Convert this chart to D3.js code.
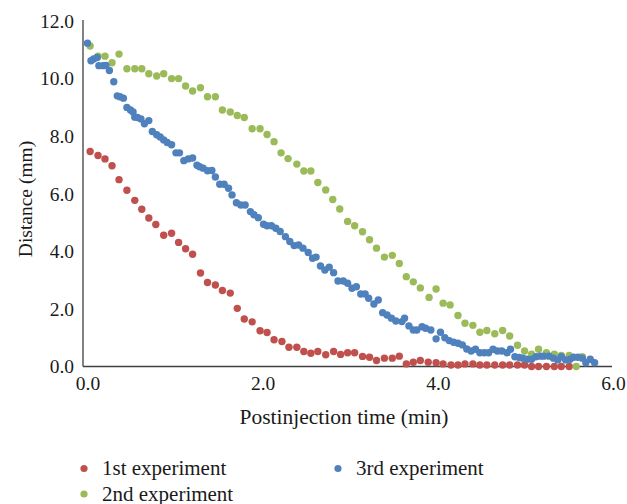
<!DOCTYPE html>
<html>
<head>
<meta charset="UTF-8">
<script src="https://d3js.org/d3.v7.min.js"></script>
<style>
  body { margin: 0; background: #fff; }
</style>
</head>
<body>
<div id="chart"></div>
<script>

// series: [time (min), distance (mm)]
var exp1 = [
  [0.03,7.47],[0.12,7.33],[0.20,7.21],[0.28,6.97],[0.36,6.49],[0.45,6.12],[0.54,5.77],[0.62,5.46],
  [0.70,5.16],[0.78,4.93],[0.87,4.56],[0.96,4.63],[1.04,4.31],[1.12,4.09],[1.20,3.90],[1.29,3.25],
  [1.37,2.92],[1.46,2.83],[1.54,2.64],[1.63,2.55],[1.71,2.02],[1.79,1.65],[1.88,1.55],[1.97,1.24],
  [2.05,1.18],[2.13,0.93],[2.22,0.87],[2.30,0.67],[2.39,0.67],[2.47,0.52],[2.55,0.46],[2.63,0.52],
  [2.72,0.41],[2.81,0.52],[2.89,0.42],[2.97,0.48],[3.05,0.48],[3.14,0.35],[3.22,0.32],[3.30,0.21],
  [3.39,0.29],[3.48,0.29],[3.56,0.36],[3.64,0.09],[3.72,0.15],[3.80,0.21],[3.89,0.15],[3.98,0.13],
  [4.06,0.09],[4.15,0.05],[4.23,0.05],[4.31,0.09],[4.40,0.09],[4.48,0.05],[4.56,0.05],[4.65,0.05],
  [4.74,0.05],[4.82,0.05],[4.91,0.05],[4.99,0.05],[5.07,0.0],[5.15,0.0],[5.24,0.0],[5.33,0.0],
  [5.41,0.0],[5.50,0.0]
];

var exp2 = [
  [0.03,11.13],[0.12,10.78],[0.20,10.78],[0.28,10.55],[0.36,10.85],[0.45,10.34],[0.54,10.34],[0.62,10.34],
  [0.70,10.17],[0.79,10.09],[0.87,10.17],[0.96,10.00],[1.04,10.00],[1.12,9.74],[1.20,9.57],[1.29,9.68],
  [1.37,9.37],[1.46,9.37],[1.54,8.91],[1.63,8.84],[1.71,8.72],[1.79,8.65],[1.88,8.26],[1.97,8.26],
  [2.05,8.06],[2.13,7.81],[2.21,7.42],[2.29,7.22],[2.39,7.03],[2.47,6.79],[2.55,6.79],[2.63,6.39],
  [2.72,6.13],[2.80,5.80],[2.88,5.47],[2.97,5.04],[3.05,4.89],[3.14,4.68],[3.22,4.40],[3.30,4.11],
  [3.39,3.80],[3.48,3.86],[3.56,3.58],[3.64,3.12],[3.72,2.94],[3.80,2.73],[3.90,2.40],[3.98,2.69],
  [4.06,2.20],[4.14,2.14],[4.23,1.77],[4.31,1.50],[4.40,1.43],[4.48,1.19],[4.56,1.25],[4.65,1.14],
  [4.74,1.25],[4.82,1.06],[4.91,0.74],[4.99,0.54],[5.07,0.43],[5.15,0.60],[5.24,0.48],[5.33,0.43],
  [5.41,0.38],[5.50,0.38],[5.58,0.0],[5.65,0.34]
];

var exp3 = [
  [0.00,11.23],[0.04,10.62],[0.07,10.68],[0.11,10.73],[0.13,10.45],[0.18,10.45],[0.21,10.46],[0.25,10.28],
  [0.30,9.89],[0.34,9.40],[0.37,9.37],[0.41,9.32],[0.45,9.00],[0.49,8.91],[0.52,8.84],[0.54,8.66],
  [0.57,8.65],[0.61,8.60],[0.65,8.43],[0.70,8.54],[0.74,8.16],[0.79,8.05],[0.83,7.97],[0.87,7.87],
  [0.91,7.78],[0.96,7.70],[1.01,7.42],[1.05,7.42],[1.10,7.15],[1.15,7.21],[1.20,7.24],[1.25,6.99],
  [1.28,6.94],[1.32,6.89],[1.37,6.80],[1.42,6.81],[1.46,6.58],[1.51,6.33],[1.56,6.33],[1.61,6.19],
  [1.65,5.96],[1.70,5.69],[1.75,5.61],[1.80,5.61],[1.86,5.38],[1.90,5.27],[1.95,5.17],[2.01,4.94],
  [2.05,4.89],[2.10,4.89],[2.15,4.80],[2.20,4.69],[2.26,4.51],[2.31,4.34],[2.36,4.20],[2.41,4.22],
  [2.46,4.11],[2.52,3.96],[2.57,3.76],[2.61,3.80],[2.66,3.49],[2.71,3.35],[2.76,3.45],[2.81,3.26],
  [2.86,2.97],[2.92,2.97],[2.97,2.89],[3.02,2.72],[3.07,2.77],[3.12,2.52],[3.17,2.52],[3.21,2.37],
  [3.27,2.17],[3.32,2.31],[3.37,1.87],[3.42,1.79],[3.47,1.68],[3.52,1.58],[3.59,1.56],[3.62,1.68],
  [3.67,1.41],[3.72,1.27],[3.76,1.27],[3.82,1.38],[3.86,1.33],[3.92,1.27],[3.98,0.96],[4.03,1.19],
  [4.08,1.00],[4.13,0.90],[4.18,0.84],[4.23,0.81],[4.28,0.75],[4.33,0.61],[4.38,0.54],[4.43,0.60],
  [4.48,0.48],[4.53,0.48],[4.58,0.48],[4.63,0.60],[4.68,0.54],[4.73,0.54],[4.79,0.48],[4.83,0.60],
  [4.88,0.34],[4.93,0.31],[4.97,0.29],[5.02,0.25],[5.07,0.25],[5.12,0.34],[5.17,0.36],[5.21,0.36],
  [5.27,0.36],[5.32,0.29],[5.37,0.23],[5.41,0.34],[5.46,0.23],[5.51,0.25],[5.55,0.32],[5.60,0.32],
  [5.65,0.29],[5.69,0.13],[5.74,0.25],[5.79,0.13]
];

var seriesNames = ["1st experiment", "2nd experiment", "3rd experiment"];
var seriesColors = ["#C0504D", "#9BBB59", "#4F81BD"];
var xTicks = [0, 2, 4, 6];
var yTicks = [0, 2, 4, 6, 8, 10, 12];

var width = 627, height = 504;
var serif = "'Liberation Serif', 'Times New Roman'";
var ink = "#1a1a1a";

var svg = d3.select("#chart")
  .append("svg")
    .attr("width", width)
    .attr("height", height);

var x = d3.scaleLinear().domain([0, 6]).range([87.5, 613]);
var y = d3.scaleLinear().domain([0, 12]).range([366.5, 21]);

// axis lines
svg.append("line")
  .attr("x1", 83).attr("x2", 83)
  .attr("y1", y(12) - 1).attr("y2", y(0))
  .attr("stroke", "#404040").attr("stroke-width", 1.3);
svg.append("line")
  .attr("x1", 83).attr("x2", 612)
  .attr("y1", y(0)).attr("y2", y(0))
  .attr("stroke", "#404040").attr("stroke-width", 1.3);

// tick labels
var gx = svg.append("g")
  .attr("transform", "translate(0," + y(0) + ")")
  .call(d3.axisBottom(x).tickValues(xTicks).tickSize(0).tickPadding(8).tickFormat(d3.format(".1f")));
gx.select(".domain").remove();
gx.selectAll("text")
  .attr("y", 0).attr("dy", 23.5)
  .style("font-family", serif)
  .style("font-size", "19.5px")
  .attr("fill", ink);

var gy = svg.append("g")
  .attr("transform", "translate(74,0)")
  .call(d3.axisLeft(y).tickValues(yTicks).tickSize(0).tickPadding(0).tickFormat(d3.format(".1f")));
gy.select(".domain").remove();
gy.selectAll("text")
  .style("font-family", serif)
  .style("font-size", "19.5px")
  .attr("fill", ink);

// axis titles
svg.append("text")
  .attr("x", 344).attr("y", 424)
  .attr("text-anchor", "middle")
  .style("font-family", serif)
  .style("font-size", "21.5px")
  .attr("fill", ink)
  .text("Postinjection time (min)");

svg.append("text")
  .attr("transform", "translate(31.5,199) rotate(-90)")
  .attr("text-anchor", "middle")
  .style("font-family", serif)
  .style("font-size", "19.5px")
  .attr("fill", ink)
  .text("Distance (mm)");

// points
[exp1, exp2, exp3].forEach(function(data, i) {
  svg.append("g")
    .selectAll("circle")
    .data(data)
    .enter()
    .append("circle")
      .attr("cx", function(d) { return x(d[0]); })
      .attr("cy", function(d) { return y(d[1]); })
      .attr("r", 3.7)
      .attr("fill", seriesColors[i]);
});

// legend
var legendPos = [[84, 468.5], [84, 494], [338, 468.5]];
seriesNames.forEach(function(name, i) {
  var g = svg.append("g").attr("transform", "translate(" + legendPos[i][0] + "," + legendPos[i][1] + ")");
  g.append("circle").attr("r", 3.6).attr("fill", seriesColors[i]);
  g.append("text")
    .attr("x", 18).attr("y", 6.5)
    .style("font-family", serif)
    .style("font-size", "21px")
    .attr("fill", ink)
    .text(name);
});

</script>
</body>
</html>
